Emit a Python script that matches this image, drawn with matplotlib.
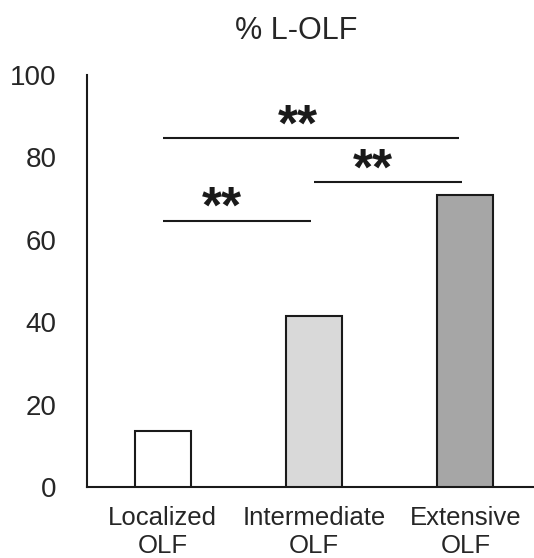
import matplotlib
matplotlib.use("Agg")
import matplotlib.pyplot as plt

plt.rcParams['font.family'] = ['Liberation Sans', 'DejaVu Sans']

# data
groups = ['Localized\nOLF', 'Intermediate\nOLF', 'Extensive\nOLF']
values = [13.7, 41.5, 70.9]
colors = ['#ffffff', '#d9d9d9', '#a6a6a6']

# significance brackets: (x start, x end, y, star x)
sig_x0 = [0.0, 1.0, 0.0]
sig_x1 = [1.96, 1.98, 0.98]
sig_y = [84.6, 74.0, 64.6]
sig_tx = [0.89, 1.39, 0.39]
sig_txt = ['**', '**', '**']

W, H = 534, 558
fig = plt.figure(figsize=(W / 100, H / 100), dpi=100)
ax = fig.add_axes([87 / W, (H - 487) / H, (541 - 87) / W, (487 - 75) / H])

x = range(len(groups))
ax.bar(x, values, width=0.37, color=colors, edgecolor='#1a1a1a', linewidth=1.5, zorder=3)

for x0, x1, y, tx, t in zip(sig_x0, sig_x1, sig_y, sig_tx, sig_txt):
    ax.plot([x0, x1], [y, y], color='#1a1a1a', lw=1.5, solid_capstyle='butt')
    ax.text(tx, y - 0.5, t, ha='center', va='baseline', fontsize=37,
            fontweight='bold', color='#1a1a1a')

ax.set_xlim(-0.5, 2.5)
ax.set_ylim(0, 100)
ax.set_yticks(range(0, 101, 20))
ax.set_xticks(list(x))
ax.set_xticklabels(groups)
ax.tick_params(axis='y', length=0, pad=22, labelsize=20, labelcolor='#262626')
ax.tick_params(axis='x', length=0, pad=14, labelsize=18.5, labelcolor='#262626')
for s in ['top', 'right']:
    ax.spines[s].set_visible(False)
for s in ['left', 'bottom']:
    ax.spines[s].set_linewidth(1.5)
    ax.spines[s].set_color('#1a1a1a')

fig.text(296 / W, 1 - 31 / H, '% L-OLF', ha='center', va='center', fontsize=22, color='#262626')

fig.savefig('out.png', dpi=100)
